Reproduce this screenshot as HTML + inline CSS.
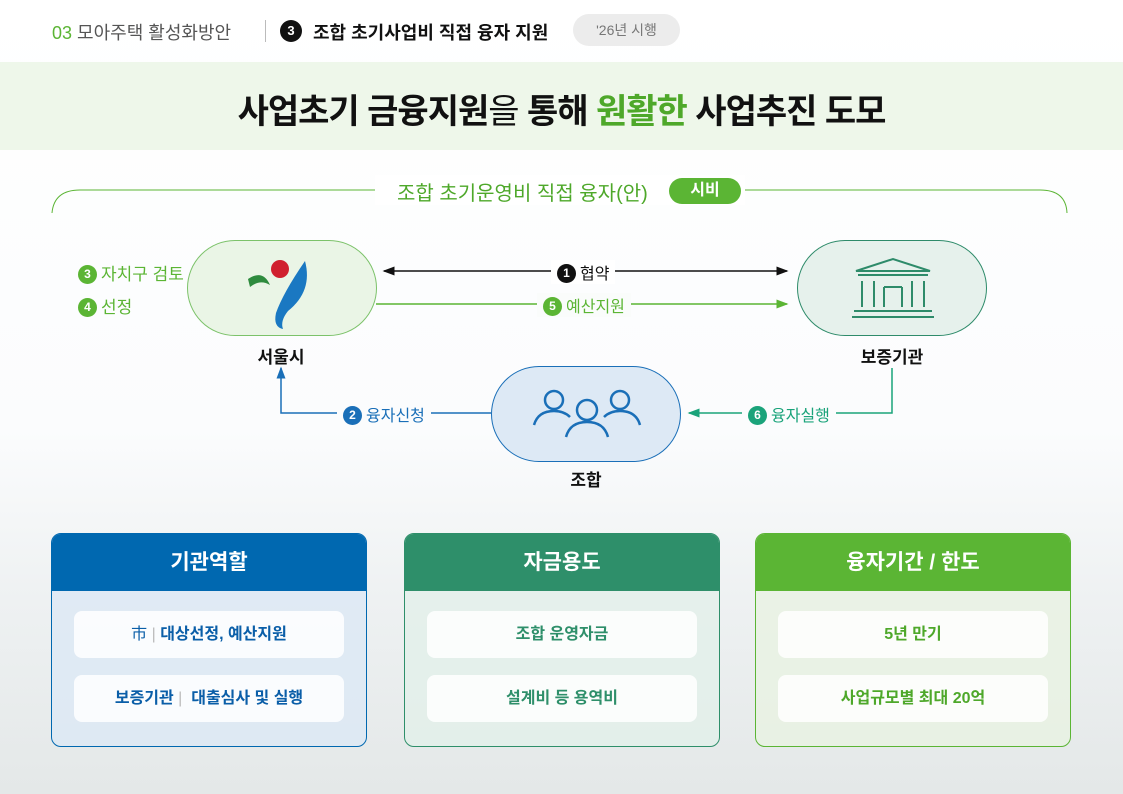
<!DOCTYPE html>
<html><head><meta charset="utf-8"><style>
*{margin:0;padding:0;box-sizing:border-box}
body{width:1123px;height:794px;position:relative;overflow:hidden;font-family:"Liberation Sans","Noto Sans CJK KR",sans-serif;background:linear-gradient(#fff 0,#fbfcfd 430px,#eef1f2 600px,#e4e8e8 794px)}
.a{position:absolute;white-space:nowrap}
.node{position:absolute;border-radius:48px;width:190px;height:96px}
.lbl{position:absolute;font-size:17px;font-weight:bold;color:#111;transform:translateX(-50%)}
.num{display:inline-block;width:19px;height:19px;border-radius:50%;color:#fff;font-size:12px;font-weight:bold;text-align:center;line-height:19px;vertical-align:2px;margin-right:4px}
.card{position:absolute;top:533px;width:316px;height:214px;border-radius:10px;overflow:hidden;border:1px solid}
.card .h{height:57px;color:#fff;font-size:21px;font-weight:bold;text-align:center;line-height:57px}
.card .b{position:absolute;left:22px;width:270px;height:47px;background:rgba(255,255,255,.85);border-radius:8px;text-align:center;line-height:47px;font-size:16px;font-weight:bold}
</style></head><body>
<div class="a" style="left:52px;top:19px;font-size:18px;color:#555"><span style="color:#5bb534">03</span> 모아주택 활성화방안</div>
<div class="a" style="left:265px;top:20px;width:1px;height:22px;background:#bbb"></div>
<div class="a" style="left:280px;top:20px;width:22px;height:22px;border-radius:50%;background:#111;color:#fff;font-size:13px;font-weight:bold;text-align:center;line-height:22px">3</div>
<div class="a" style="left:313px;top:19px;font-size:18px;font-weight:bold;color:#111">조합 초기사업비 직접 융자 지원</div>
<div class="a" style="left:573px;top:14px;width:107px;height:32px;border-radius:16px;background:#ececec;color:#777;font-size:14px;text-align:center;line-height:32px">'26년 시행</div>
<div class="a" style="left:0;top:62px;width:1123px;height:88px;background:#eef7ea"></div>
<div class="a" style="left:0;top:84px;width:1123px;text-align:center;font-size:34px;font-weight:bold;color:#111;letter-spacing:-1px">사업초기 금융지원<span style="font-weight:normal">을</span> 통해 <span style="color:#4ea82a">원활한</span> 사업추진 도모</div>

<svg class="a" style="left:0;top:0" width="1123" height="794">
<defs>
<marker id="k" markerWidth="8" markerHeight="8" refX="7" refY="4" orient="auto-start-reverse"><path d="M0,1 L8,4 L0,7z" fill="#111"/></marker>
<marker id="g" markerWidth="8" markerHeight="8" refX="7" refY="4" orient="auto"><path d="M0,1 L8,4 L0,7z" fill="#5bb534"/></marker>
<marker id="b" markerWidth="8" markerHeight="8" refX="7" refY="4" orient="auto"><path d="M0,1 L8,4 L0,7z" fill="#1a6fb8"/></marker>
<marker id="t" markerWidth="8" markerHeight="8" refX="7" refY="4" orient="auto"><path d="M0,1 L8,4 L0,7z" fill="#1aa37a"/></marker>
</defs>
<path d="M52,213 Q54,190 80,190 L375,190" fill="none" stroke="#5bb534" stroke-width="1"/>
<path d="M745,190 L1040,190 Q1066,190 1067,213" fill="none" stroke="#5bb534" stroke-width="1"/>
<line x1="384" y1="271" x2="787" y2="271" stroke="#111" stroke-width="1.5" marker-start="url(#k)" marker-end="url(#k)"/>
<line x1="376" y1="304" x2="787" y2="304" stroke="#5bb534" stroke-width="1.5" marker-end="url(#g)"/>
<polyline points="491,413 281,413 281,368" fill="none" stroke="#1a6fb8" stroke-width="1.5" marker-end="url(#b)"/>
<polyline points="892,368 892,413 689,413" fill="none" stroke="#1aa37a" stroke-width="1.5" marker-end="url(#t)"/>
</svg>
<div class="a" style="left:375px;top:175px;width:370px;height:30px;background:#fff"></div>
<div class="a" style="left:397px;top:177px;font-size:20px;color:#4ea82a">조합 초기운영비 직접 융자(안)</div>
<div class="a" style="left:669px;top:178px;width:72px;height:26px;border-radius:13px;background:#5bb534;color:#fff;font-size:16px;font-weight:bold;text-align:center;line-height:26px">시비</div>

<div class="a" style="left:78px;top:260px;font-size:17px;color:#5bb534"><span class="num" style="background:#5bb534">3</span>자치구 검토</div>
<div class="a" style="left:78px;top:293px;font-size:17px;color:#5bb534"><span class="num" style="background:#5bb534">4</span>선정</div>

<div class="node" style="left:187px;top:240px;background:#eaf5e6;border:1px solid #7cc26a">
<svg width="190" height="96"><circle cx="92" cy="28" r="9" fill="#d0202e"/><path d="M60,38 Q75,28 82,44 Q72,38 62,46z" fill="#2e8b3e"/><path d="M117,20 Q125,50 100,70 Q92,80 95,88 Q85,86 88,72 Q95,52 117,20z" fill="#1a78c2"/></svg></div>
<div class="node" style="left:797px;top:240px;background:#e6f1ec;border:1px solid #2e8b6a">
<svg width="190" height="96" fill="none" stroke="#2e8b6a" stroke-width="2"><path d="M58,30 L95,18 L132,30 Z M60,34 H130 M64,40 V66 M76,40 V66 M114,40 V66 M126,40 V66 M86,46 V66 M104,46 V66 M86,46 H104 M56,70 H134 M54,76 H136"/></svg></div>
<div class="node" style="left:491px;top:366px;background:#dde9f5;border:1px solid #1a6fb8">
<svg width="190" height="96" fill="none" stroke="#1a6fb8" stroke-width="2.5"><circle cx="62" cy="33" r="9"/><path d="M42,58 Q46,44 62,44 Q72,44 78,50"/><circle cx="128" cy="33" r="9"/><path d="M148,58 Q144,44 128,44 Q118,44 112,50"/><circle cx="95" cy="43" r="10"/><path d="M74,70 Q78,55 95,55 Q112,55 116,70"/></svg></div>
<div class="lbl" style="left:281px;top:343px">서울시</div>
<div class="lbl" style="left:892px;top:343px">보증기관</div>
<div class="lbl" style="left:586px;top:466px">조합</div>

<div class="a" style="left:551px;top:260px;background:#fff;padding:0 6px;font-size:16px;color:#111"><span class="num" style="background:#111">1</span>협약</div>
<div class="a" style="left:537px;top:293px;background:#fafcfb;padding:0 6px;font-size:16px;color:#5bb534"><span class="num" style="background:#5bb534">5</span>예산지원</div>
<div class="a" style="left:337px;top:402px;background:#fbfcfd;padding:0 6px;font-size:16px;color:#1a6fb8"><span class="num" style="background:#1a6fb8">2</span>융자신청</div>
<div class="a" style="left:742px;top:402px;background:#fbfcfd;padding:0 6px;font-size:16px;color:#1aa37a"><span class="num" style="background:#1aa37a">6</span>융자실행</div>

<div class="card" style="left:51px;border-color:#0068b0;background:rgba(220,233,245,.8)"><div class="h" style="background:#0068b0">기관역할</div>
<div class="b" style="top:77px;color:#0a5ea8"><span style="font-weight:normal">市</span> <span style="color:#bbb;font-weight:normal">|</span> 대상선정, 예산지원</div>
<div class="b" style="top:141px;color:#0a5ea8">보증기관 <span style="color:#bbb;font-weight:normal">|</span> &nbsp;대출심사 및 실행</div></div>
<div class="card" style="left:404px;border-color:#2e8f6a;background:rgba(226,240,234,.8)"><div class="h" style="background:#2e8f6a">자금용도</div>
<div class="b" style="top:77px;color:#2e8f6a">조합 운영자금</div>
<div class="b" style="top:141px;color:#2e8f6a">설계비 등 용역비</div></div>
<div class="card" style="left:755px;border-color:#5bb534;background:rgba(232,243,226,.8)"><div class="h" style="background:#5bb534">융자기간 / 한도</div>
<div class="b" style="top:77px;color:#4ea82a">5년 만기</div>
<div class="b" style="top:141px;color:#4ea82a">사업규모별 최대 20억</div></div>
</body></html>
